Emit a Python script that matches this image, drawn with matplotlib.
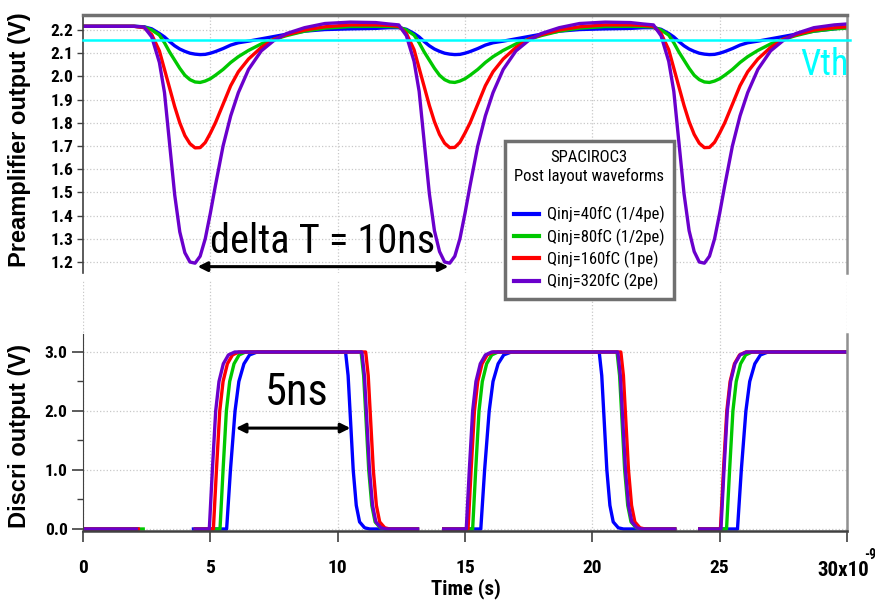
import numpy as np
import matplotlib
matplotlib.use("Agg")
import matplotlib.pyplot as plt
from matplotlib import font_manager
from matplotlib.lines import Line2D

nan = np.nan

# ---------------- data: preamplifier output (V) ----------------
pre_t = [0, 2.0, 2.4, 2.7, 3.0, 3.2, 3.4, 3.6, 3.8, 4.0, 4.2, 4.4, 4.6, 4.8, 5.0, 5.2, 5.5, 5.8, 6.1, 6.5, 7.0, 7.5, 8.0, 8.7, 9.5, 10.5, 11.5, 12.0,
         12.4, 12.7, 13.0, 13.2, 13.4, 13.6, 13.8, 14.0, 14.2, 14.4, 14.6, 14.8, 15.0, 15.2, 15.5, 15.8, 16.1, 16.5, 17.0, 17.5, 18.0, 18.7, 19.5, 20.5, 21.5, 22.0,
         22.4, 22.7, 23.0, 23.2, 23.4, 23.6, 23.8, 24.0, 24.2, 24.4, 24.6, 24.8, 25.0, 25.2, 25.5, 25.8, 26.1, 26.5, 27.0, 27.5, 28.0, 28.7, 29.5, 30.0]

pre_40fC = [2.216, 2.216, 2.214, 2.205, 2.185, 2.17, 2.15, 2.132, 2.118, 2.108, 2.10, 2.096, 2.094, 2.095, 2.10, 2.107, 2.12, 2.135, 2.145, 2.152, 2.162, 2.172, 2.182, 2.195, 2.202, 2.205, 2.207, 2.21,
            2.21, 2.203, 2.185, 2.17, 2.15, 2.132, 2.118, 2.108, 2.10, 2.096, 2.094, 2.095, 2.10, 2.107, 2.12, 2.135, 2.145, 2.152, 2.162, 2.172, 2.182, 2.195, 2.202, 2.205, 2.207, 2.21,
            2.21, 2.203, 2.185, 2.17, 2.15, 2.132, 2.118, 2.108, 2.10, 2.096, 2.094, 2.095, 2.10, 2.107, 2.12, 2.135, 2.145, 2.152, 2.162, 2.172, 2.182, 2.195, 2.205, 2.212]
pre_80fC = [2.216, 2.216, 2.213, 2.20, 2.178, 2.145, 2.105, 2.07, 2.035, 2.005, 1.986, 1.976, 1.974, 1.98, 1.99, 2.005, 2.03, 2.06, 2.085, 2.112, 2.14, 2.16, 2.176, 2.195, 2.208, 2.215, 2.216, 2.215,
            2.213, 2.20, 2.178, 2.145, 2.105, 2.07, 2.035, 2.005, 1.986, 1.976, 1.974, 1.98, 1.99, 2.005, 2.03, 2.06, 2.085, 2.112, 2.14, 2.16, 2.176, 2.195, 2.208, 2.215, 2.216, 2.215,
            2.213, 2.20, 2.178, 2.145, 2.105, 2.07, 2.035, 2.005, 1.986, 1.976, 1.974, 1.98, 1.99, 2.005, 2.03, 2.06, 2.085, 2.112, 2.14, 2.16, 2.176, 2.195, 2.205, 2.208]
pre_160fC = [2.216, 2.216, 2.21, 2.18, 2.11, 2.03, 1.95, 1.87, 1.80, 1.745, 1.71, 1.692, 1.693, 1.715, 1.755, 1.80, 1.88, 1.96, 2.02, 2.075, 2.125, 2.16, 2.18, 2.20, 2.214, 2.222, 2.222, 2.22,
             2.216, 2.185, 2.115, 2.035, 1.955, 1.875, 1.805, 1.75, 1.712, 1.693, 1.694, 1.716, 1.756, 1.80, 1.88, 1.96, 2.02, 2.075, 2.125, 2.16, 2.18, 2.20, 2.214, 2.222, 2.222, 2.22,
             2.216, 2.185, 2.115, 2.035, 1.955, 1.875, 1.805, 1.75, 1.712, 1.693, 1.694, 1.716, 1.756, 1.80, 1.88, 1.96, 2.02, 2.075, 2.125, 2.16, 2.18, 2.20, 2.21, 2.214]
pre_320fC = [2.216, 2.216, 2.213, 2.17, 2.06, 1.93, 1.71, 1.49, 1.33, 1.24, 1.20, 1.195, 1.225, 1.30, 1.41, 1.53, 1.70, 1.83, 1.93, 2.03, 2.11, 2.155, 2.185, 2.21, 2.228, 2.234, 2.232, 2.226,
             2.222, 2.175, 2.065, 1.935, 1.715, 1.495, 1.335, 1.245, 1.20, 1.195, 1.225, 1.30, 1.41, 1.53, 1.70, 1.83, 1.93, 2.03, 2.11, 2.155, 2.185, 2.21, 2.228, 2.234, 2.232, 2.226,
             2.222, 2.175, 2.065, 1.935, 1.715, 1.495, 1.335, 1.245, 1.20, 1.195, 1.225, 1.30, 1.41, 1.53, 1.70, 1.83, 1.93, 2.03, 2.11, 2.155, 2.185, 2.21, 2.222, 2.226]
vth = 2.156

# ---------------- data: discriminator output (V) ----------------
dis_v = [0, 0, nan, 0, 0, 1.0, 2.0, 2.5, 2.8, 2.95, 3.0, 3.0, 2.6, 1.8, 1.0, 0.4, 0.12, 0.02, 0, 0, nan, 0,
         0, 1.0, 2.0, 2.5, 2.8, 2.95, 3.0, 3.0, 2.6, 1.8, 1.0, 0.4, 0.12, 0.02, 0, 0, nan, 0,
         0, 1.0, 2.0, 2.5, 2.8, 2.95, 3.0, 3.0]
dis_t_40fC = [0, 2.2, 3.3, 4.27, 5.64, 5.79, 5.97, 6.12, 6.32, 6.54, 6.84, 10.31, 10.41, 10.51, 10.61, 10.73, 10.86, 11.06, 11.26, 13.2, 13.65, 14.1,
              15.62, 15.77, 15.95, 16.1, 16.3, 16.52, 16.82, 20.27, 20.37, 20.47, 20.57, 20.69, 20.82, 21.02, 21.22, 23.3, 23.7, 24.15,
              25.7, 25.85, 26.03, 26.18, 26.38, 26.6, 26.9, 30]
dis_t_80fC = [0, 2.43, 3.3, 4.35, 5.38, 5.5, 5.63, 5.76, 5.93, 6.13, 6.38, 10.92, 11.02, 11.12, 11.22, 11.34, 11.47, 11.67, 11.87, 13.2, 13.65, 14.1,
              15.3, 15.42, 15.55, 15.68, 15.85, 16.05, 16.3, 20.97, 21.07, 21.17, 21.27, 21.39, 21.52, 21.72, 21.92, 23.3, 23.7, 24.15,
              25.27, 25.39, 25.52, 25.65, 25.82, 26.02, 26.27, 30]
dis_t_160fC = [0, 2.24, 3.3, 4.35, 5.12, 5.24, 5.37, 5.5, 5.67, 5.87, 6.12, 11.1, 11.2, 11.3, 11.4, 11.52, 11.65, 11.85, 12.05, 13.2, 13.65, 14.1,
               15.12, 15.24, 15.37, 15.5, 15.67, 15.87, 16.12, 21.12, 21.22, 21.32, 21.42, 21.54, 21.67, 21.87, 22.07, 23.3, 23.7, 24.15,
               25.03, 25.15, 25.28, 25.41, 25.58, 25.78, 26.03, 30]
dis_t_320fC = [0, 2.16, 3.3, 4.35, 4.96, 5.08, 5.21, 5.34, 5.51, 5.71, 5.96, 10.95, 11.05, 11.15, 11.25, 11.37, 11.5, 11.7, 11.9, 13.2, 13.65, 14.1,
               15.05, 15.17, 15.3, 15.43, 15.6, 15.8, 16.05, 21.0, 21.1, 21.2, 21.3, 21.42, 21.55, 21.75, 21.95, 23.3, 23.7, 24.15,
               25.05, 25.17, 25.3, 25.43, 25.6, 25.8, 26.05, 30]

labels = ["Qinj=40fC (1/4pe)", "Qinj=80fC (1/2pe)", "Qinj=160fC (1pe)", "Qinj=320fC (2pe)"]
colors = ["#0000ff", "#00c800", "#ff0000", "#6a00cc"]
pre_series = [pre_40fC, pre_80fC, pre_160fC, pre_320fC]
dis_times = [dis_t_40fC, dis_t_80fC, dis_t_160fC, dis_t_320fC]

pre_yticks = [1.2, 1.3, 1.4, 1.5, 1.6, 1.7, 1.8, 1.9, 2.0, 2.1, 2.2]
dis_yticks = [0.0, 1.0, 2.0, 3.0]
xticks = [0, 5, 10, 15, 20, 25, 30]
xticklabels = ["0", "5", "10", "15", "20", "25", ""]

# ---------------- fonts ----------------
names = {f.name for f in font_manager.fontManager.ttflist}
COND = "Roboto Condensed" if "Roboto Condensed" in names else "Liberation Sans"
plt.rcParams["font.family"] = [COND, "DejaVu Sans"]
YLAB_FAMILY = ["Liberation Sans", "DejaVu Sans"]

W, H = 875, 606
fig = plt.figure(figsize=(W / 100, H / 100), dpi=100)

def fx(x):
    return x / W

def fy(y):
    return 1 - y / H

GRID = dict(color="#c8c8c8", linestyle=":", linewidth=0.9)

# ---------------- top axes ----------------
ax1 = fig.add_axes([fx(83), fy(273), fx(847) - fx(83), fy(15) - fy(273)])
ax1.set_xlim(0, 30)
ax1.set_ylim(1.1526, 2.2647)
for c, s, lab in zip(colors, pre_series, labels):
    ax1.plot(pre_t, s, color=c, lw=2.4, label=lab, solid_capstyle="round")
ax1.axhline(vth, xmin=0, xmax=1.004, color="#00ffff", lw=1.8, clip_on=False, zorder=5)
ax1.set_yticks(pre_yticks)
ax1.set_yticklabels([f"{v:.1f}" for v in pre_yticks], fontweight="bold", fontsize=12.5)
ax1.set_xticks(xticks[1:-1])
ax1.tick_params(axis="x", length=0, labelbottom=False)
ax1.tick_params(axis="y", direction="out", length=4, width=1, pad=3, color="#404040")
ax1.grid(True, **GRID)
ax1.spines["bottom"].set_visible(False)
ax1.spines["top"].set_color("#707070")
ax1.spines["top"].set_linewidth(2.5)
ax1.spines["right"].set_color("#909090")
ax1.spines["right"].set_linewidth(1.8)
ax1.spines["left"].set_color("#404040")
ax1.spines["left"].set_linewidth(1.2)

ax1.text(29.13, 2.05, "Vth", color="#00ffff", fontsize=26, ha="center", va="center", clip_on=False)
ax1.annotate("", xy=(4.5, 1.180), xytext=(14.35, 1.180),
             arrowprops=dict(arrowstyle="<|-|>", color="black", lw=2.2, mutation_scale=14,
                             shrinkA=0, shrinkB=0))
ax1.text(9.4, 1.29, "delta T = 10ns", fontsize=29, ha="center", va="center")

# ---------------- bottom axes ----------------
ax2 = fig.add_axes([fx(83), fy(531), fx(847) - fx(83), fy(280) - fy(531)])
ax2.set_xlim(0, 30)
ax2.set_ylim(-0.034, 4.22)
for c, t, lab in zip(colors, dis_times, labels):
    ax2.plot(t, dis_v, color=c, lw=2.4, solid_capstyle="butt")
ax2.set_yticks(dis_yticks)
ax2.set_yticklabels([f"{v:.1f}" for v in dis_yticks], fontweight="bold", fontsize=12.5)
ax2.set_yticks([0.5, 1.5, 2.5], minor=True)
ax2.set_xticks(xticks)
ax2.set_xticklabels(xticklabels, fontweight="bold", fontsize=14)
ax2.tick_params(axis="x", direction="out", length=8, width=1.2, pad=12, color="#404040")
ax2.tick_params(axis="y", which="major", direction="out", length=8, width=1.2, pad=3, color="#404040")
ax2.tick_params(axis="y", which="minor", direction="out", length=4, width=1, color="#404040")
ax2.grid(True, which="major", **GRID)
ax2.spines["top"].set_visible(False)
ax2.spines["left"].set_bounds(-0.034, 3.3)
ax2.spines["right"].set_bounds(-0.034, 3.3)
ax2.spines["left"].set_color("#404040")
ax2.spines["right"].set_color("#909090")
ax2.spines["right"].set_linewidth(1.8)
ax2.spines["bottom"].set_color("#404040")
ax2.spines["bottom"].set_linewidth(1.8)

ax2.annotate("", xy=(6.0, 1.71), xytext=(10.5, 1.71),
             arrowprops=dict(arrowstyle="<|-|>", color="black", lw=2.2, mutation_scale=14,
                             shrinkA=0, shrinkB=0))
ax2.text(8.4, 2.3, "5ns", fontsize=32, ha="center", va="center")

# x-axis exponent label and titles
fig.text(fx(817), fy(570), "30x10", fontsize=15, fontweight="bold", ha="left", va="center")
fig.text(fx(864), fy(555), "-9", fontsize=10, fontweight="bold", ha="left", va="center")
fig.text(fx(466), fy(589), "Time (s)", fontsize=15, fontweight="bold", ha="center", va="center")
fig.text(fx(20), fy(140), "Preamplifier output (V)", fontsize=17, fontweight="bold",
         family=YLAB_FAMILY, rotation=90, ha="center", va="center")
fig.text(fx(20), fy(436), "Discri output (V)", fontsize=17, fontweight="bold",
         family=YLAB_FAMILY, rotation=90, ha="center", va="center")

# legend
handles = [Line2D([0], [0], color=c, lw=3) for c in colors]
leg = fig.legend(handles, labels, loc="upper left", bbox_to_anchor=(fx(505), fy(141)),
                 title="SPACIROC3\nPost layout waveforms\n ", fontsize=12, title_fontsize=12,
                 frameon=True, fancybox=False, handlelength=1.5, handletextpad=0.45,
                 labelspacing=0.3, borderpad=0.55, borderaxespad=0)
leg.get_frame().set_edgecolor("#707070")
leg.get_frame().set_linewidth(2.5)
leg.get_frame().set_alpha(1)
leg.get_title().set_multialignment("center")

fig.savefig("out.png", dpi=100)
